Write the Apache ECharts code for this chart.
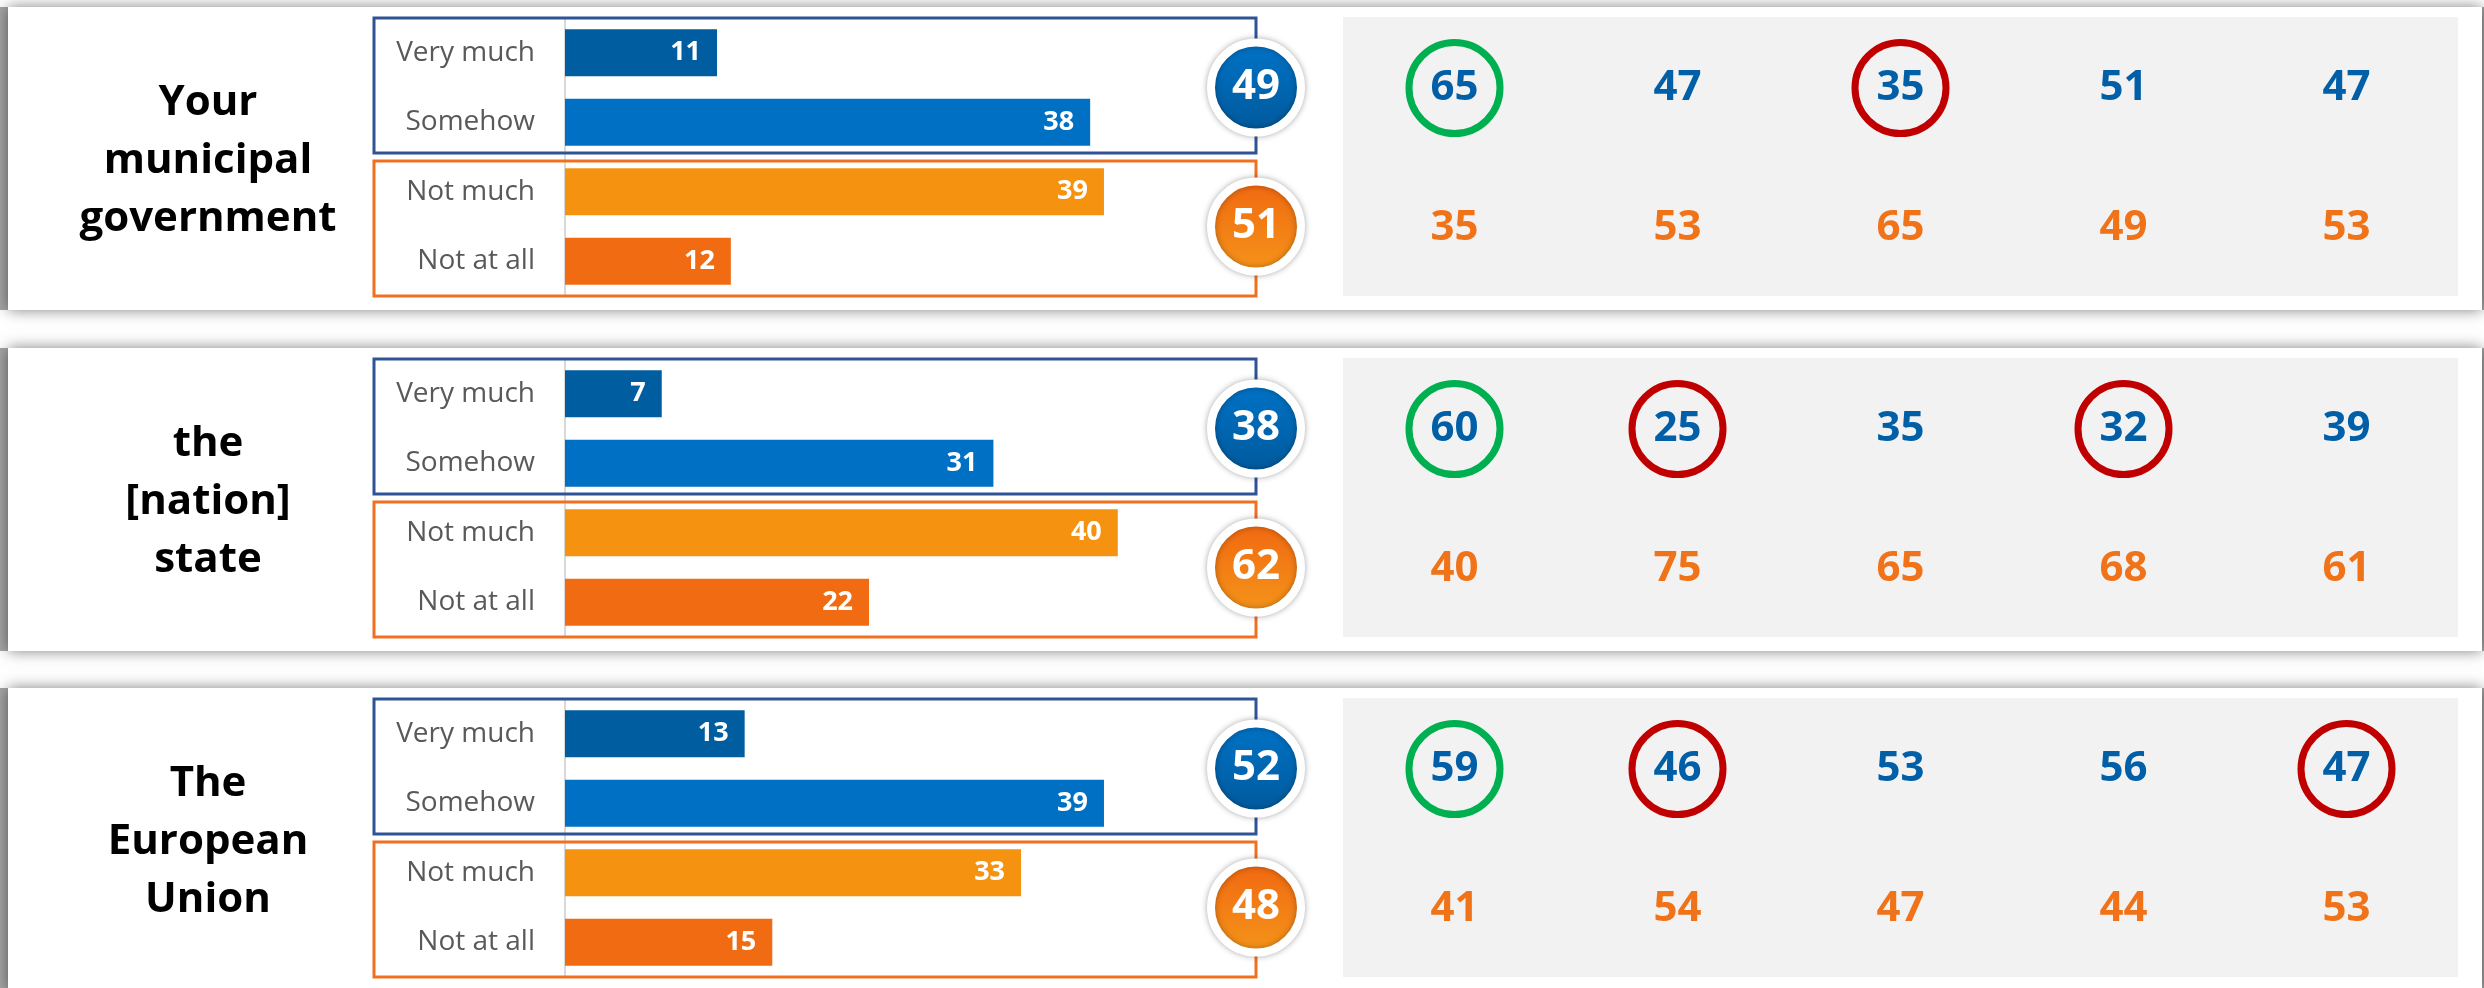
<!DOCTYPE html>
<html>
<head>
<meta charset="utf-8">
<script src="https://cdn.jsdelivr.net/npm/echarts@6/dist/echarts.min.js"></script>
<style>
  html, body { margin: 0; padding: 0; background: #fff; }
  #main { width: 2484px; height: 988px; }
</style>
</head>
<body>
<div id="main"></div>
<script>
// data
var institutions = ['Your\nmunicipal\ngovernment', 'the\n[nation]\nstate', 'The\nEuropean\nUnion'];
var levels = ['Very much', 'Somehow', 'Not much', 'Not at all'];
var veryMuch = [11, 7, 13];
var somehow = [38, 31, 39];
var notMuch = [39, 40, 33];
var notAtAll = [12, 22, 15];
var trustTotal = [49, 38, 52];
var distrustTotal = [51, 62, 48];
var groups = ['g1', 'g2', 'g3', 'g4', 'g5'];
var trustByGroup = [[65, 47, 35, 51, 47], [60, 25, 35, 32, 39], [59, 46, 53, 56, 47]];
var distrustByGroup = [[35, 53, 65, 49, 53], [40, 75, 65, 68, 61], [41, 54, 47, 44, 53]];
var trustMarks = [['high', '', 'low', '', ''], ['high', 'low', '', 'low', ''], ['high', 'low', '', '', 'low']];

var barColors = ['#005DA0', '#0070C4', '#F59311', '#F06B11'];
var markColors = { high: '#00B050', low: '#C00000' };
var FONT = '"Open Sans", "Noto Sans", sans-serif';

var boxTop = [18, 359, 699];   // top of the blue box in each panel
var plotH = 278;

var myChart = echarts.init(document.getElementById('main'));

var grid = [], xAxis = [], yAxis = [], series = [], graphic = [];

for (var i = 0; i < 3; i++) {
  var B = boxTop[i];
  var panelTop = B - 11;

  // panel card with shadow
  graphic.push({ type: 'rect', z: -20, shape: { x: 0, y: panelTop, width: 2484, height: 303 },
    style: { fill: '#A6A6A6' } });
  graphic.push({ type: 'rect', z: -19, shape: { x: 8, y: panelTop, width: 2474, height: 303 },
    style: { fill: '#fff', shadowBlur: 14, shadowColor: 'rgba(0,0,0,0.5)' } });
  // grey area behind the group columns
  graphic.push({ type: 'rect', z: -18, shape: { x: 1343, y: B - 1, width: 1115, height: 279 },
    style: { fill: '#F2F2F2' } });
  // trust / distrust boxes
  graphic.push({ type: 'rect', z: 1, shape: { x: 374, y: B, width: 882, height: 135 },
    style: { fill: null, stroke: '#2F5496', lineWidth: 3 } });
  graphic.push({ type: 'rect', z: 1, shape: { x: 374, y: B + 143, width: 882, height: 135 },
    style: { fill: null, stroke: '#F07020', lineWidth: 3 } });
  // institution name
  graphic.push({ type: 'text', z: 2, x: 208, y: B + 143,
    style: { text: institutions[i], fill: '#000', font: 'bold 42px ' + FONT,
      align: 'center', verticalAlign: 'middle', lineHeight: 58 } });

  var g = grid.length;
  grid.push({ left: 565, width: 691, top: B, height: plotH });
  grid.push({ left: 1343, width: 1115, top: B, height: 280 });

  var xa = xAxis.length;
  xAxis.push({ gridIndex: g, type: 'value', min: 0, max: 50, show: false });
  xAxis.push({ gridIndex: g + 1, type: 'category', data: groups, show: false });

  var ya = yAxis.length;
  yAxis.push({ gridIndex: g, type: 'category', inverse: true, data: levels,
    axisLine: { show: true, lineStyle: { color: '#D9D9D9', width: 2 } },
    axisTick: { show: false }, splitLine: { show: false },
    axisLabel: { color: '#595959', fontSize: 28, fontFamily: FONT, margin: 30 } });
  yAxis.push({ gridIndex: g, type: 'value', inverse: true, min: -0.5, max: 3.5, show: false });
  yAxis.push({ gridIndex: g + 1, type: 'category', inverse: true, data: ['trust', 'distrust'], show: false });

  var vals = [veryMuch[i], somehow[i], notMuch[i], notAtAll[i]];
  series.push({
    type: 'bar', xAxisIndex: xa, yAxisIndex: ya, barWidth: 47, z: 3,
    data: vals.map(function (v, k) { return { value: v, itemStyle: { color: barColors[k] } }; }),
    label: { show: true, position: 'insideRight', distance: 16, color: '#fff',
      fontSize: 27, fontWeight: 'bold', fontFamily: FONT }
  });

  series.push({
    type: 'scatter', xAxisIndex: xa, yAxisIndex: ya + 1, z: 6, symbolSize: 90,
    data: [
      { value: [50, 0.5, trustTotal[i]], itemStyle: { color: new echarts.graphic.LinearGradient(0, 0, 0, 1,
        [{ offset: 0, color: '#0074C8' }, { offset: 1, color: '#00589A' }]) } },
      { value: [50, 2.5, distrustTotal[i]], itemStyle: { color: new echarts.graphic.LinearGradient(0, 0, 0, 1,
        [{ offset: 0, color: '#F06610' }, { offset: 1, color: '#F5961A' }]) } }
    ],
    itemStyle: { opacity: 1, borderColor: '#fff', borderWidth: 8, shadowBlur: 6, shadowColor: 'rgba(0,0,0,0.3)' },
    label: { show: true, position: 'inside', color: '#fff', fontSize: 42, fontWeight: 'bold',
      fontFamily: FONT, formatter: function (p) { return p.value[2]; } }
  });

  var right = [];
  for (var j = 0; j < groups.length; j++) {
    var m = trustMarks[i][j];
    right.push({
      value: [j, 0, trustByGroup[i][j]],
      symbolSize: m ? 91 : 1,
      itemStyle: { color: 'rgba(0,0,0,0)', borderColor: m ? markColors[m] : 'rgba(0,0,0,0)', borderWidth: m ? 7 : 0 },
      label: { color: '#005FA6' }
    });
    right.push({
      value: [j, 1, distrustByGroup[i][j]],
      symbolSize: 1,
      itemStyle: { color: 'rgba(0,0,0,0)', borderWidth: 0 },
      label: { color: '#F07319' }
    });
  }
  series.push({
    type: 'scatter', xAxisIndex: xa + 1, yAxisIndex: ya + 2, z: 4, data: right,
    itemStyle: { opacity: 1 },
    label: { show: true, position: 'inside', fontSize: 42, fontWeight: 'bold', fontFamily: FONT,
      formatter: function (p) { return p.value[2]; } }
  });
}

var option = {
  backgroundColor: '#fff',
  animation: false,
  graphic: graphic,
  grid: grid,
  xAxis: xAxis,
  yAxis: yAxis,
  series: series
};

myChart.setOption(option);
</script>
</body>
</html>
